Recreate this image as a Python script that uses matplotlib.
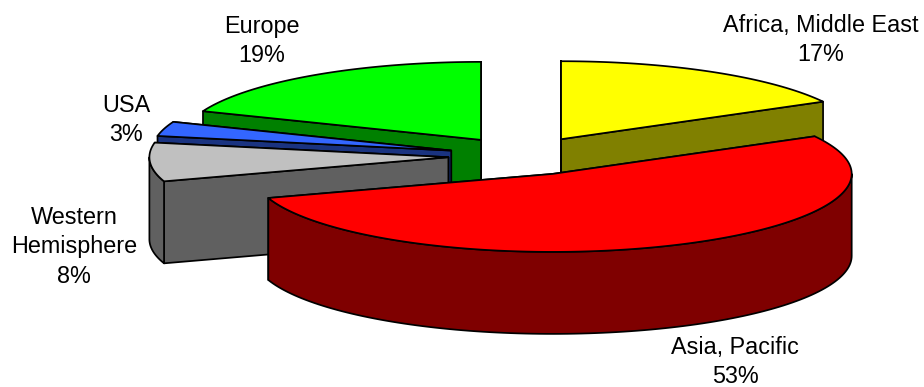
import numpy as np
import matplotlib
matplotlib.use("Agg")
import matplotlib.pyplot as plt
from matplotlib.patches import Polygon

# Data
regions = ["Africa, Middle East", "Asia, Pacific", "Western\nHemisphere", "USA", "Europe"]
shares = [17, 53, 8, 3, 19]

# Style
top_colors = ["#FFFF00", "#FF0000", "#C0C0C0", "#3366FF", "#00FF00"]
wall_colors = ["#808000", "#7F0000", "#606060", "#1A3380", "#008000"]
draw_order = [4, 0, 3, 2, 1]
label_xy = [(821, 40), (735, 362), (74, 247), (126, 120), (262, 41)]
CX, CY, RX, RY, DEPTH, EXPLODE = 523, 156, 299, 78, 82, 0.25

plt.rcParams["font.family"] = ["Liberation Sans", "DejaVu Sans"]
fig = plt.figure(figsize=(9.24, 3.87), dpi=100)
ax = fig.add_axes([0, 0, 1, 1])
ax.set_xlim(0, 924)
ax.set_ylim(387, 0)
ax.axis("off")

edges = np.cumsum([0] + shares) / sum(shares) * 360.0


def pt(ox, oy, deg):
    t = np.radians(deg)
    return ox + RX * np.sin(t), oy - RY * np.cos(t)


def add(xy, color):
    ax.add_patch(Polygon(xy, closed=True, facecolor=color, edgecolor="black",
                         linewidth=1.25, joinstyle="round"))


for i in draw_order:
    a0, a1 = edges[i], edges[i + 1]
    mid = np.radians((a0 + a1) / 2)
    ox = CX + EXPLODE * RX * np.sin(mid)
    oy = CY - EXPLODE * RY * np.cos(mid)
    # radial walls
    for a in (a1, a0):
        px, py = pt(ox, oy, a)
        add([(ox, oy), (px, py), (px, py + DEPTH), (ox, oy + DEPTH)], wall_colors[i])
    # outer wall, front half only
    lo, hi = max(a0, 90), min(a1, 270)
    if hi > lo:
        th = np.linspace(lo, hi, 120)
        xs, ys = pt(ox, oy, th)
        add(np.r_[np.c_[xs, ys], np.c_[xs, ys + DEPTH][::-1]], wall_colors[i])
    # top face
    th = np.linspace(a0, a1, 200)
    xs, ys = pt(ox, oy, th)
    add(np.r_[[(ox, oy)], np.c_[xs, ys]], top_colors[i])

for name, share, (x, y) in zip(regions, shares, label_xy):
    ax.text(x, y, f"{name}\n{share}%", ha="center", va="center", fontsize=16.8,
            color="black", linespacing=1.38)

fig.savefig("out.png", dpi=100)
